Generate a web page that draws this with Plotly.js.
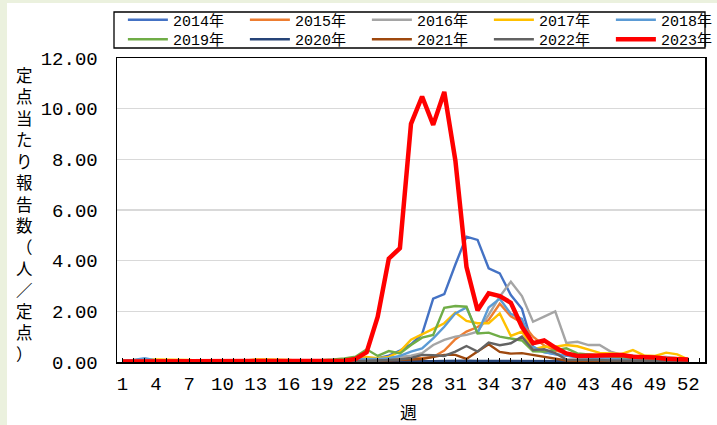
<!DOCTYPE html>
<html>
<head>
<meta charset="utf-8">
<script src="https://cdn.plot.ly/plotly-3.0.1.min.js"></script>
<style>
  html, body { margin: 0; padding: 0; background: #fff; width: 717px; height: 425px; overflow: hidden; }
  #chart { position: absolute; left: 0; top: 0; width: 717px; height: 425px; }
  .band { position: absolute; background: #EBF1DE; pointer-events: none; z-index: 10; }
</style>
</head>
<body>
<div id="chart"></div>
<div class="band" style="left:0;top:0;width:7px;height:425px"></div>
<div class="band" style="left:0;top:0;width:717px;height:3px"></div>
<script>
const weeks = [1,2,3,4,5,6,7,8,9,10,11,12,13,14,15,16,17,18,19,20,21,22,23,24,25,26,27,28,29,30,31,32,33,34,35,36,37,38,39,40,41,42,43,44,45,46,47,48,49,50,51,52];
const xTickVals = [1,4,7,10,13,16,19,22,25,28,31,34,37,40,43,46,49,52];
const xTickLabels = ['1','4','7','10','13','16','19','22','25','28','31','34','37','40','43','46','49','52'];
const seriesNames = ['2014年','2015年','2016年','2017年','2018年','2019年','2020年','2021年','2022年','2023年'];
const seriesColors = ['#4472C4','#ED7D31','#A5A5A5','#FFC000','#5B9BD5','#70AD47','#264478','#9E480E','#636363','#FF0000'];

const y2014 = [0.02,0.02,0.03,0.02,0.02,0.02,0.02,0.02,0.01,0.01,0.01,0.01,0.02,0.02,0.02,0.02,0.02,0.03,0.03,0.05,
  0.06,0.1,0.12,0.15,0.25,0.45,0.7,1.1,2.5,2.68,3.85,4.95,4.82,3.7,3.5,2.64,2.1,0.6,0.4,0.3,
  0.25,0.2,0.2,0.15,0.15,0.12,0.1,0.1,0.08,0.06,0.05,0.05];
const y2015 = [0.03,0.03,0.05,0.05,0.04,0.04,0.03,0.03,0.02,0.02,0.02,0.02,0.03,0.03,0.03,0.03,0.03,0.03,0.04,0.05,
  0.05,0.06,0.08,0.08,0.1,0.12,0.15,0.15,0.2,0.45,0.9,1.2,1.38,1.66,2.3,1.8,1.55,1.0,0.65,0.45,
  0.35,0.3,0.3,0.25,0.25,0.2,0.2,0.15,0.12,0.1,0.08,0.05];
const y2016 = [0.03,0.03,0.04,0.04,0.03,0.03,0.03,0.02,0.02,0.02,0.02,0.02,0.02,0.02,0.03,0.03,0.03,0.03,0.04,0.04,
  0.05,0.08,0.1,0.12,0.15,0.2,0.25,0.35,0.67,0.87,1.0,1.07,1.2,1.86,2.58,3.17,2.6,1.59,1.79,2.0,
  0.75,0.8,0.67,0.67,0.41,0.28,0.25,0.2,0.2,0.2,0.15,0.1];
const y2017 = [0.05,0.08,0.1,0.1,0.1,0.08,0.08,0.05,0.04,0.04,0.04,0.05,0.1,0.1,0.1,0.08,0.05,0.04,0.04,0.05,
  0.08,0.12,0.2,0.15,0.2,0.41,0.88,1.08,1.31,1.53,1.95,1.62,1.53,1.53,1.92,1.03,1.2,0.5,0.6,0.6,
  0.67,0.62,0.48,0.36,0.34,0.32,0.47,0.26,0.24,0.37,0.3,0.1];
const y2018 = [0.05,0.08,0.15,0.06,0.04,0.03,0.03,0.03,0.02,0.02,0.02,0.02,0.03,0.03,0.03,0.03,0.03,0.04,0.05,0.06,
  0.08,0.1,0.12,0.12,0.15,0.24,0.41,0.54,0.93,1.39,1.92,2.15,1.13,2.15,2.5,1.9,1.7,0.6,0.38,0.3,
  0.25,0.2,0.18,0.15,0.15,0.12,0.1,0.1,0.08,0.06,0.05,0.04];
const y2019 = [0.03,0.03,0.03,0.03,0.02,0.02,0.02,0.02,0.02,0.02,0.02,0.02,0.02,0.03,0.03,0.03,0.04,0.05,0.07,0.1,
  0.14,0.21,0.5,0.24,0.43,0.34,0.67,0.96,1.07,2.14,2.21,2.18,1.13,1.16,1.0,0.92,0.85,0.42,0.41,0.47,
  0.54,0.34,0.3,0.25,0.22,0.2,0.18,0.15,0.12,0.1,0.08,0.05];
const y2020 = [0.03,0.03,0.02,0.02,0.02,0.01,0.01,0.01,0.01,0.01,0.01,0.01,0.01,0.01,0.01,0.01,0.01,0.01,0.01,0.01,
  0.01,0.01,0.01,0.02,0.02,0.02,0.02,0.03,0.03,0.04,0.05,0.05,0.04,0.04,0.05,0.05,0.04,0.05,0.04,0.03,
  0.03,0.03,0.02,0.02,0.02,0.02,0.02,0.02,0.02,0.02,0.02,0.02];
const y2021 = [0.01,0.01,0.01,0.01,0.01,0.01,0.01,0.01,0.01,0.01,0.01,0.01,0.01,0.01,0.01,0.01,0.01,0.01,0.01,0.01,
  0.02,0.03,0.03,0.05,0.06,0.08,0.1,0.12,0.2,0.28,0.28,0.12,0.41,0.7,0.4,0.33,0.35,0.28,0.22,0.15,
  0.06,0.05,0.05,0.04,0.04,0.04,0.03,0.03,0.03,0.02,0.02,0.02];
const y2022 = [0.01,0.01,0.01,0.01,0.01,0.01,0.01,0.01,0.01,0.01,0.01,0.01,0.01,0.01,0.01,0.01,0.01,0.01,0.01,0.01,
  0.02,0.03,0.05,0.05,0.08,0.1,0.16,0.28,0.27,0.24,0.41,0.63,0.41,0.77,0.66,0.74,1.0,0.47,0.5,0.35,
  0.1,0.1,0.08,0.08,0.06,0.05,0.05,0.04,0.04,0.03,0.03,0.03];
const y2023 = [0.02,0.02,0.02,0.02,0.02,0.02,0.02,0.02,0.02,0.02,0.02,0.02,0.02,0.02,0.02,0.02,0.02,0.02,0.02,0.02,
  0.05,0.12,0.38,1.79,4.08,4.49,9.4,10.48,9.36,10.66,7.95,3.76,2.04,2.71,2.6,2.34,1.39,0.74,0.85,0.57,
  0.34,0.24,0.24,0.25,0.26,0.28,0.21,0.2,0.18,0.13,0.1,0.1];

const yTitleChars = ['定','点','当','た','り','報','告','数','（','人','／','定','点','）'];
const xTitle = '週';

const allY = [y2014,y2015,y2016,y2017,y2018,y2019,y2020,y2021,y2022,y2023];
const traces = allY.map((ys, i) => ({
  type: 'scatter', mode: 'lines',
  x: weeks, y: ys,
  name: seriesNames[i],
  legend: i < 5 ? 'legend' : 'legend2',
  line: { color: seriesColors[i], width: i === 9 ? 4.5 : 2.4 },
  hoverinfo: 'skip'
}));

const monoFont = 'Liberation Mono, "Noto Sans CJK JP", monospace';
const legendBase = {
  orientation: 'h', xref: 'paper', yref: 'paper',
  x: -0.0002, xanchor: 'left', yanchor: 'middle',
  borderwidth: 0, bgcolor: 'rgba(0,0,0,0)',
  font: { family: monoFont, size: 15, color: '#000' },
  entrywidth: 61, entrywidthmode: 'pixels', itemwidth: 40, indentation: 6,
  traceorder: 'normal', tracegroupgap: 0
};

const layout = {
  width: 717, height: 425,
  margin: { l: 117, r: 12, t: 58, b: 63, autoexpand: false },
  paper_bgcolor: '#ffffff', plot_bgcolor: '#ffffff',
  showlegend: true,
  legend: Object.assign({}, legendBase, { y: 1.125 }),
  legend2: Object.assign({}, legendBase, { y: 1.0609 }),
  shapes: [
    { type: 'rect', xref: 'paper', yref: 'paper', x0: -0.0051, x1: 1.0, y0: 1.0329, y1: 1.1513,
      line: { color: '#000', width: 1.3 }, fillcolor: 'rgba(0,0,0,0)', layer: 'above' }
  ],
  xaxis: {
    range: [0.5, 53.5], tickmode: 'array', tickvals: xTickVals, ticktext: xTickLabels,
    ticks: 'inside', ticklen: 4, tickcolor: '#000', tickwidth: 1,
    minor: { ticks: 'inside', ticklen: 4, tickcolor: '#000', dtick: 1, tick0: 1, showgrid: false },
    showline: true, linecolor: '#000', linewidth: 1.5, mirror: true,
    showgrid: false, zeroline: false, automargin: false,
    tickfont: { family: monoFont, size: 19, color: '#000' },
    ticklabelstandoff: 4
  },
  yaxis: {
    range: [0, 12], dtick: 2, tick0: 0, tickformat: '.2f',
    showline: true, linecolor: '#000', linewidth: 1.5, mirror: true,
    showgrid: true, gridcolor: '#d9d9d9', gridwidth: 1.5, zeroline: false, automargin: false,
    ticks: '', tickfont: { family: monoFont, size: 19, color: '#000' },
    ticklabelstandoff: 14
  },
  annotations: [
    { text: yTitleChars.join('<br>'), xref: 'paper', yref: 'paper', x: -0.158, y: 0.485,
      xanchor: 'center', yanchor: 'middle', showarrow: false,
      font: { family: '"Noto Sans CJK JP", sans-serif', size: 16.5, color: '#000' } },
    { text: xTitle, xref: 'paper', yref: 'paper', x: 0.495, y: -0.164,
      xanchor: 'center', yanchor: 'middle', showarrow: false,
      font: { family: '"Noto Sans CJK JP", sans-serif', size: 17, color: '#000' } }
  ]
};

Plotly.newPlot('chart', traces, layout, { displayModeBar: false, staticPlot: true });
</script>
</body>
</html>
